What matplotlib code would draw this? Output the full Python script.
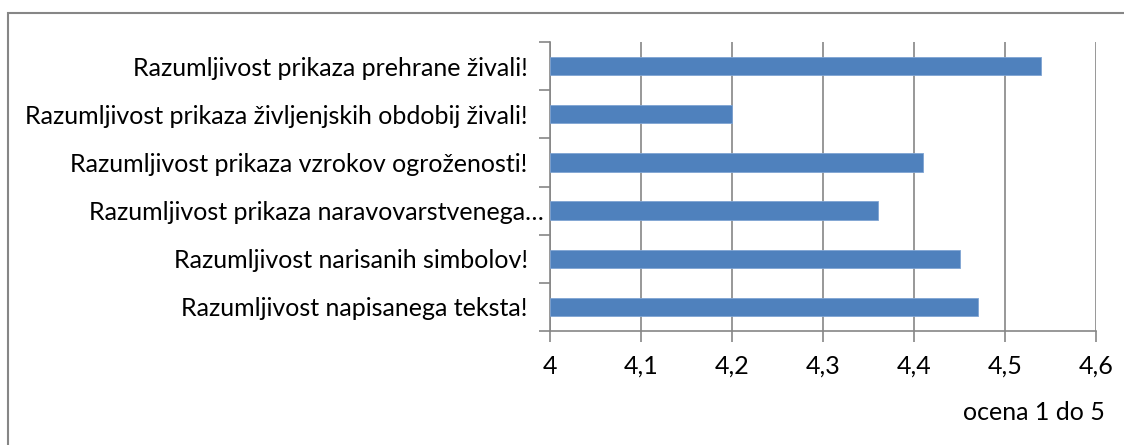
import matplotlib
matplotlib.use("Agg")
import matplotlib.pyplot as plt
import matplotlib.transforms as mtransforms
from matplotlib.patches import Rectangle
from matplotlib.ticker import FuncFormatter

categories = [
    "Razumljivost napisanega teksta!",
    "Razumljivost narisanih simbolov!",
    "Razumljivost prikaza naravovarstvenega…",
    "Razumljivost prikaza vzrokov ogroženosti!",
    "Razumljivost prikaza življenjskih obdobij živali!",
    "Razumljivost prikaza prehrane živali!",
]
values = [4.47, 4.45, 4.36, 4.41, 4.20, 4.54]
x_ticks = [4.0, 4.1, 4.2, 4.3, 4.4, 4.5, 4.6]

plt.rcParams['font.family'] = ['Lato', 'DejaVu Sans']
grey = '#868686'
fs = 18

fig = plt.figure(figsize=(11.24, 4.45), dpi=100)
W, H = 1124, 445

# outer chart border (right/bottom run off the image)
fig.patches.append(Rectangle((8 / W, -0.1), 1.2, (H - 13) / H + 0.1,
                             transform=fig.transFigure, fill=False,
                             edgecolor=grey, linewidth=1.5))

ax = fig.add_axes([550 / W, (H - 331) / H, 546 / W, 289 / H])

pos = list(range(len(categories)))
ax.barh(pos, [v - 4 for v in values], left=4, height=0.38,
        color='#4F81BD', edgecolor='#7FA4D3', linewidth=0.6, zorder=3)

ax.set_xlim(4, 4.6)
ax.set_ylim(-0.5, len(categories) - 0.5)
ax.set_xticks(x_ticks)
ax.xaxis.set_major_formatter(FuncFormatter(lambda v, p: f"{v:g}".replace('.', ',')))
ax.grid(axis='x', color=grey, linewidth=1.2, zorder=0)

# category labels centred, ticks on category boundaries
ax.set_yticks(pos)
ax.set_yticklabels(categories)
ax.set_yticks([p - 0.5 for p in range(len(categories) + 1)], minor=True)
ax.tick_params(axis='y', which='major', length=0, pad=16, labelsize=fs)
ax.tick_params(axis='y', which='minor', length=8, width=1.2, color=grey)
ax.tick_params(axis='x', length=8, width=1.2, color=grey, pad=9, labelsize=fs)

# truncated label sits closer to the axis, like in Excel
for lbl in ax.get_yticklabels():
    if lbl.get_text().endswith("…"):
        lbl.set_transform(lbl.get_transform() +
                          mtransforms.ScaledTranslation(16 / 100, 0, fig.dpi_scale_trans))

for s in ['top', 'right']:
    ax.spines[s].set_visible(False)
for s in ['left', 'bottom']:
    ax.spines[s].set_color(grey)
    ax.spines[s].set_linewidth(1.2)

ax.set_xlabel("ocena 1 do 5", fontsize=fs, loc='right')
ax.xaxis.label.set_va('center')
ax.xaxis.set_label_coords(1 + 9 / 546, -(413 - 331) / 289)

fig.savefig("out.png", dpi=100)
